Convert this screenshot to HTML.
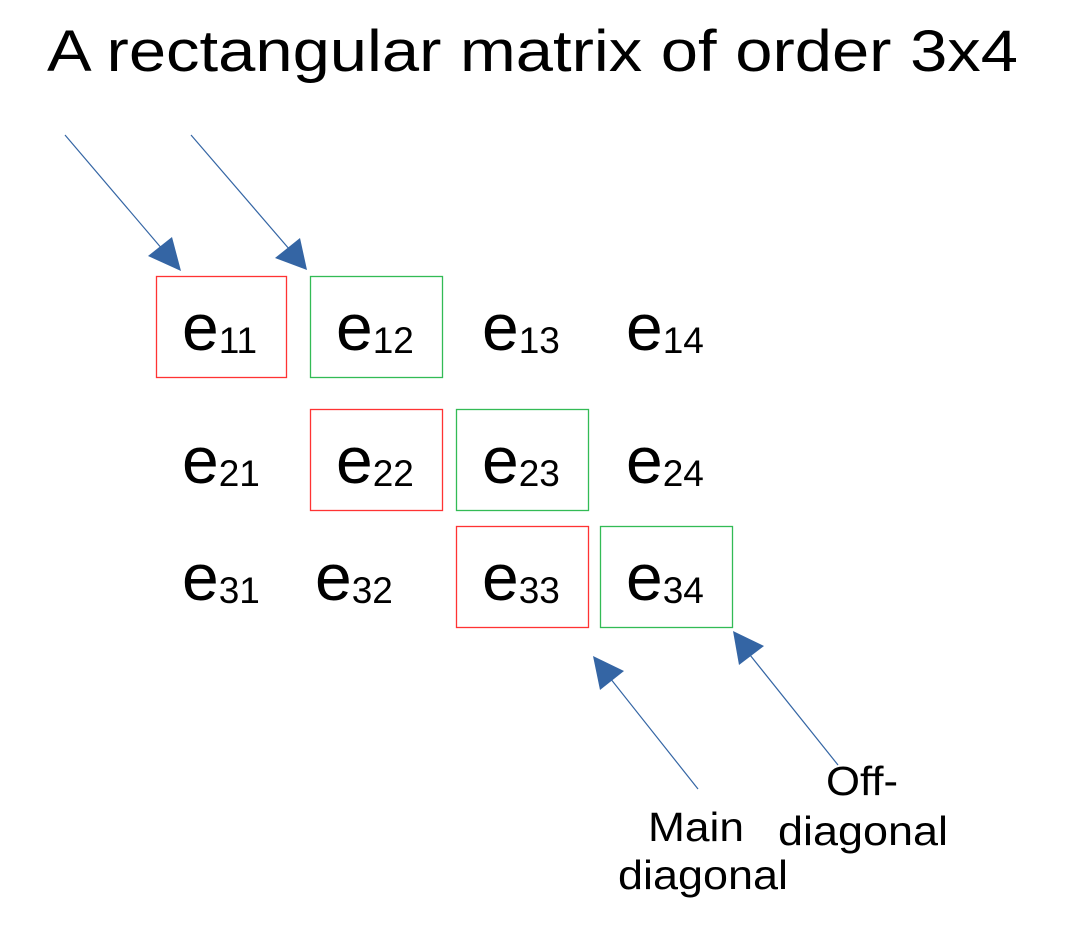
<!DOCTYPE html>
<html><head><meta charset="utf-8"><style>
html,body{margin:0;padding:0;background:#fff;}
svg{display:block;}
text{font-family:"Liberation Sans",sans-serif;fill:#000;}
</style></head><body>
<svg width="1074" height="934" viewBox="0 0 1074 934" xmlns="http://www.w3.org/2000/svg">
<text x="47" y="71" font-size="58" textLength="971" lengthAdjust="spacingAndGlyphs">A rectangular matrix of order 3x4</text>
<g fill="none" stroke-width="1.3">
<rect x="156.5" y="276.5" width="130" height="101" stroke="#ff3333"/>
<rect x="310.5" y="276.5" width="132" height="101" stroke="#33bb55"/>
<rect x="310.5" y="409.5" width="132" height="101" stroke="#ff3333"/>
<rect x="456.5" y="409.5" width="132" height="101" stroke="#33bb55"/>
<rect x="456.5" y="526.5" width="132" height="101" stroke="#ff3333"/>
<rect x="600.5" y="526.5" width="132" height="101" stroke="#33bb55"/>
</g>
<g font-size="66">
<text x="182" y="350">e<tspan font-size="37" dy="3">11</tspan></text>
<text x="336" y="350">e<tspan font-size="37" dy="3">12</tspan></text>
<text x="482" y="350">e<tspan font-size="37" dy="3">13</tspan></text>
<text x="626" y="350">e<tspan font-size="37" dy="3">14</tspan></text>
<text x="182" y="483">e<tspan font-size="37" dy="3">21</tspan></text>
<text x="336" y="483">e<tspan font-size="37" dy="3">22</tspan></text>
<text x="482" y="483">e<tspan font-size="37" dy="3">23</tspan></text>
<text x="626" y="483">e<tspan font-size="37" dy="3">24</tspan></text>
<text x="182" y="600">e<tspan font-size="37" dy="3">31</tspan></text>
<text x="315" y="600">e<tspan font-size="37" dy="3">32</tspan></text>
<text x="482" y="600">e<tspan font-size="37" dy="3">33</tspan></text>
<text x="626" y="600">e<tspan font-size="37" dy="3">34</tspan></text>
</g>
<g stroke="#3465a4" stroke-width="1.2">
<line x1="65" y1="135" x2="163" y2="250"/>
<line x1="191" y1="135" x2="290" y2="250"/>
<line x1="698" y1="789" x2="610" y2="678"/>
<line x1="838" y1="765" x2="750" y2="655"/>
</g>
<g fill="#3465a4">
<polygon points="181,271 148,256 172,237"/>
<polygon points="307,270 275,258 300,238"/>
<polygon points="593,656 600,690 624,671"/>
<polygon points="733,631 739,665 764,646"/>
</g>
<g font-size="41">
<text x="648" y="841" textLength="96" lengthAdjust="spacingAndGlyphs">Main</text>
<text x="618" y="889" textLength="170" lengthAdjust="spacingAndGlyphs">diagonal</text>
<text x="826" y="795" textLength="72" lengthAdjust="spacingAndGlyphs">Off-</text>
<text x="778" y="845" textLength="170" lengthAdjust="spacingAndGlyphs">diagonal</text>
</g>
</svg>
</body></html>
